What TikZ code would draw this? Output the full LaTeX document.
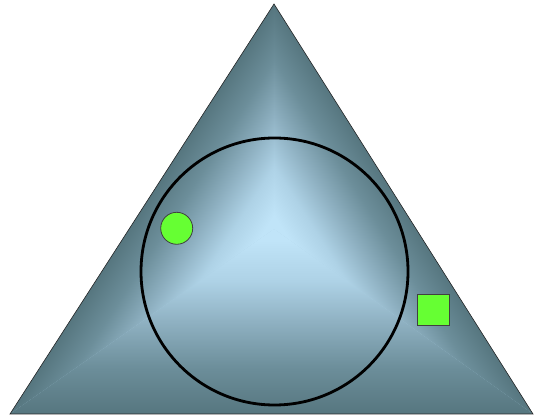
\documentclass[tikz,border=0pt]{standalone}
\definecolor{tdark}{HTML}{56767F}
\definecolor{tqa}{HTML}{6C8E9A}
\definecolor{tmid}{HTML}{8FB1C2}
\definecolor{tqc}{HTML}{AED2E6}
\definecolor{tlight}{HTML}{C0E4F8}
\definecolor{lime}{HTML}{66FF33}
\pgfdeclareverticalshading{pyr}{100bp}{color(0bp)=(tdark); color(25bp)=(tdark); color(37.5bp)=(tqa); color(50bp)=(tmid); color(61bp)=(tqc); color(72bp)=(tlight); color(100bp)=(tlight)}
\tikzset{
  sector/.style={shading=pyr, shading angle=0},
  ring/.style={circle, draw=black, line width=2.8pt, inner sep=0pt, minimum size=267pt},
  dot/.style={circle, draw=black!75, fill=lime, line width=0.8pt, inner sep=0pt, minimum size=32pt},
  box/.style={rectangle, draw=black!75, fill=lime, line width=0.8pt, inner sep=0pt, minimum width=32pt, minimum height=31pt}
}
\begin{document}
\begin{tikzpicture}[x=1pt,y=1pt]
\useasboundingbox (0,0) rectangle (534,419);
\coordinate (A) at (274,415);
\coordinate (B) at (10,5);
\coordinate (C) at (533,5);
\fill[tqc] (A) -- (B) -- (C) -- cycle;
% bottom sector
\begin{scope}[transform canvas={cm={523,0,264,185,(10,5)}}]
  \shade[sector] (0,0) -- (1,0) -- (0,1) -- cycle;
\end{scope}
% left sector
\begin{scope}[transform canvas={cm={264,410,264,185,(10,5)}}]
  \shade[sector] (0,0) -- (1,0) -- (0,1) -- cycle;
\end{scope}
% right sector
\begin{scope}[transform canvas={cm={-259,410,-259,185,(533,5)}}]
  \shade[sector] (0,0) -- (1,0) -- (0,1) -- cycle;
\end{scope}
\draw[black!85, line width=0.6pt, line join=miter] (A) -- (B) -- (C) -- cycle;
\node[ring] (ringc) at (274.5,147.5) {};
\node[dot] (gdot) at (176.7,190.7) {};
\node[box] (gbox) at (433.3,108.8) {};
\end{tikzpicture}
\end{document}
